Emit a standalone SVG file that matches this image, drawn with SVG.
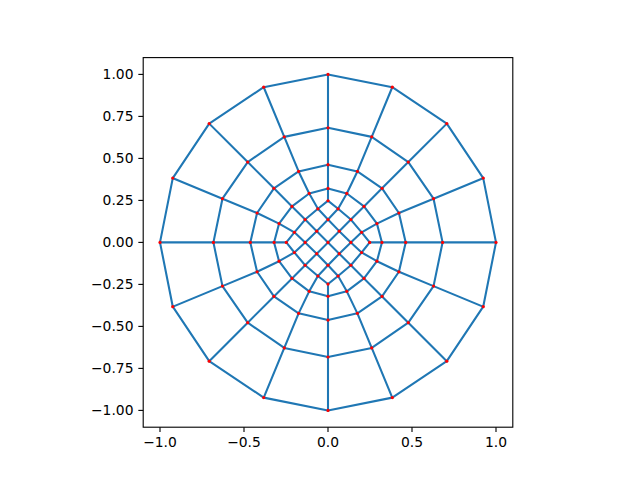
<svg xmlns="http://www.w3.org/2000/svg" width="640" height="480" viewBox="0 0 640 480">
<style>
.m{fill:none;stroke:#1f77b4;stroke-width:2.08;stroke-linejoin:round;stroke-linecap:square}
.p{fill:#ff0000}
.p circle{r:1.6px}
.ax{fill:none;stroke:#000;stroke-width:1.11;stroke-linecap:square}
.tk{stroke:#000;stroke-width:1.11}
.t{font-family:"DejaVu Sans",sans-serif;font-size:13.89px;fill:#000}
</style>
<rect width="640" height="480" fill="#fff"/>
<g id="connectors" class="m">
<polygon points="496,242.4 483.21,178.11 446.79,123.61 392.29,87.19 328,74.4 263.71,87.19 209.21,123.61 172.79,178.11 160,242.4 172.79,306.69 209.21,361.19 263.71,397.61 328,410.4 392.29,397.61 446.79,361.19 483.21,306.69"/>
<polygon points="442.58,242.4 433.54,198.68 408.31,162.09 371.72,136.86 328,127.82 284.28,136.86 247.69,162.09 222.46,198.68 213.42,242.4 222.46,286.12 247.69,322.71 284.28,347.94 328,356.98 371.72,347.94 408.31,322.71 433.54,286.12"/>
<polygon points="405.7,242.4 398.93,213.02 382.05,188.35 357.38,171.47 328,164.7 298.62,171.47 273.95,188.35 257.07,213.02 250.3,242.4 257.07,271.78 273.95,296.45 298.62,313.33 328,320.1 357.38,313.33 382.05,296.45 398.93,271.78"/>
<polygon points="381.93,242.4 376.94,223.61 363.99,206.41 346.79,193.46 328,188.47 309.21,193.46 292.01,206.41 279.06,223.61 274.07,242.4 279.06,261.19 292.01,278.39 309.21,291.34 328,296.33 346.79,291.34 363.99,278.39 376.94,261.19"/>
<polyline points="369.66,242.4 381.93,242.4 405.7,242.4 442.58,242.4 496,242.4"/>
<polyline points="361.6,232.32 376.94,223.61 398.93,213.02 433.54,198.68 483.21,178.11"/>
<polyline points="350.85,219.55 363.99,206.41 382.05,188.35 408.31,162.09 446.79,123.61"/>
<polyline points="338.08,208.8 346.79,193.46 357.38,171.47 371.72,136.86 392.29,87.19"/>
<polyline points="328,200.74 328,188.47 328,164.7 328,127.82 328,74.4"/>
<polyline points="317.92,208.8 309.21,193.46 298.62,171.47 284.28,136.86 263.71,87.19"/>
<polyline points="305.15,219.55 292.01,206.41 273.95,188.35 247.69,162.09 209.21,123.61"/>
<polyline points="294.4,232.32 279.06,223.61 257.07,213.02 222.46,198.68 172.79,178.11"/>
<polyline points="286.34,242.4 274.07,242.4 250.3,242.4 213.42,242.4 160,242.4"/>
<polyline points="294.4,252.48 279.06,261.19 257.07,271.78 222.46,286.12 172.79,306.69"/>
<polyline points="305.15,265.25 292.01,278.39 273.95,296.45 247.69,322.71 209.21,361.19"/>
<polyline points="317.92,276 309.21,291.34 298.62,313.33 284.28,347.94 263.71,397.61"/>
<polyline points="328,284.06 328,296.33 328,320.1 328,356.98 328,410.4"/>
<polyline points="338.08,276 346.79,291.34 357.38,313.33 371.72,347.94 392.29,397.61"/>
<polyline points="350.85,265.25 363.99,278.39 382.05,296.45 408.31,322.71 446.79,361.19"/>
<polyline points="361.6,252.48 376.94,261.19 398.93,271.78 433.54,286.12 483.21,306.69"/>
<polyline points="369.66,242.4 361.6,232.32 350.85,219.55 338.08,208.8 328,200.74"/>
<polyline points="361.6,252.48 350.85,242.4 339.26,231.14 328,219.55 317.92,208.8"/>
<polyline points="350.85,265.25 339.26,253.66 328,242.4 316.74,231.14 305.15,219.55"/>
<polyline points="338.08,276 328,265.25 316.74,253.66 305.15,242.4 294.4,232.32"/>
<polyline points="328,284.06 317.92,276 305.15,265.25 294.4,252.48 286.34,242.4"/>
<polyline points="286.34,242.4 294.4,232.32 305.15,219.55 317.92,208.8 328,200.74"/>
<polyline points="294.4,252.48 305.15,242.4 316.74,231.14 328,219.55 338.08,208.8"/>
<polyline points="305.15,265.25 316.74,253.66 328,242.4 339.26,231.14 350.85,219.55"/>
<polyline points="317.92,276 328,265.25 339.26,253.66 350.85,242.4 361.6,232.32"/>
<polyline points="328,284.06 338.08,276 350.85,265.25 361.6,252.48 369.66,242.4"/>
</g>
<g id="nodes">
<g id="ring0" class="p">
<circle cx="496" cy="242.4" r="1.6"/><circle cx="483.21" cy="178.11" r="1.6"/><circle cx="446.79" cy="123.61" r="1.6"/><circle cx="392.29" cy="87.19" r="1.6"/><circle cx="328" cy="74.4" r="1.6"/><circle cx="263.71" cy="87.19" r="1.6"/><circle cx="209.21" cy="123.61" r="1.6"/><circle cx="172.79" cy="178.11" r="1.6"/><circle cx="160" cy="242.4" r="1.6"/><circle cx="172.79" cy="306.69" r="1.6"/><circle cx="209.21" cy="361.19" r="1.6"/><circle cx="263.71" cy="397.61" r="1.6"/><circle cx="328" cy="410.4" r="1.6"/><circle cx="392.29" cy="397.61" r="1.6"/><circle cx="446.79" cy="361.19" r="1.6"/><circle cx="483.21" cy="306.69" r="1.6"/>
</g>
<g id="ring1" class="p">
<circle cx="442.58" cy="242.4" r="1.6"/><circle cx="433.54" cy="198.68" r="1.6"/><circle cx="408.31" cy="162.09" r="1.6"/><circle cx="371.72" cy="136.86" r="1.6"/><circle cx="328" cy="127.82" r="1.6"/><circle cx="284.28" cy="136.86" r="1.6"/><circle cx="247.69" cy="162.09" r="1.6"/><circle cx="222.46" cy="198.68" r="1.6"/><circle cx="213.42" cy="242.4" r="1.6"/><circle cx="222.46" cy="286.12" r="1.6"/><circle cx="247.69" cy="322.71" r="1.6"/><circle cx="284.28" cy="347.94" r="1.6"/><circle cx="328" cy="356.98" r="1.6"/><circle cx="371.72" cy="347.94" r="1.6"/><circle cx="408.31" cy="322.71" r="1.6"/><circle cx="433.54" cy="286.12" r="1.6"/>
</g>
<g id="ring2" class="p">
<circle cx="405.7" cy="242.4" r="1.6"/><circle cx="398.93" cy="213.02" r="1.6"/><circle cx="382.05" cy="188.35" r="1.6"/><circle cx="357.38" cy="171.47" r="1.6"/><circle cx="328" cy="164.7" r="1.6"/><circle cx="298.62" cy="171.47" r="1.6"/><circle cx="273.95" cy="188.35" r="1.6"/><circle cx="257.07" cy="213.02" r="1.6"/><circle cx="250.3" cy="242.4" r="1.6"/><circle cx="257.07" cy="271.78" r="1.6"/><circle cx="273.95" cy="296.45" r="1.6"/><circle cx="298.62" cy="313.33" r="1.6"/><circle cx="328" cy="320.1" r="1.6"/><circle cx="357.38" cy="313.33" r="1.6"/><circle cx="382.05" cy="296.45" r="1.6"/><circle cx="398.93" cy="271.78" r="1.6"/>
</g>
<g id="ring3" class="p">
<circle cx="381.93" cy="242.4" r="1.6"/><circle cx="376.94" cy="223.61" r="1.6"/><circle cx="363.99" cy="206.41" r="1.6"/><circle cx="346.79" cy="193.46" r="1.6"/><circle cx="328" cy="188.47" r="1.6"/><circle cx="309.21" cy="193.46" r="1.6"/><circle cx="292.01" cy="206.41" r="1.6"/><circle cx="279.06" cy="223.61" r="1.6"/><circle cx="274.07" cy="242.4" r="1.6"/><circle cx="279.06" cy="261.19" r="1.6"/><circle cx="292.01" cy="278.39" r="1.6"/><circle cx="309.21" cy="291.34" r="1.6"/><circle cx="328" cy="296.33" r="1.6"/><circle cx="346.79" cy="291.34" r="1.6"/><circle cx="363.99" cy="278.39" r="1.6"/><circle cx="376.94" cy="261.19" r="1.6"/>
</g>
<g id="core" class="p">
<circle cx="369.66" cy="242.4" r="1.6"/><circle cx="361.6" cy="232.32" r="1.6"/><circle cx="350.85" cy="219.55" r="1.6"/><circle cx="338.08" cy="208.8" r="1.6"/><circle cx="328" cy="200.74" r="1.6"/><circle cx="317.92" cy="208.8" r="1.6"/><circle cx="305.15" cy="219.55" r="1.6"/><circle cx="294.4" cy="232.32" r="1.6"/><circle cx="286.34" cy="242.4" r="1.6"/><circle cx="294.4" cy="252.48" r="1.6"/><circle cx="305.15" cy="265.25" r="1.6"/><circle cx="317.92" cy="276" r="1.6"/><circle cx="328" cy="284.06" r="1.6"/><circle cx="338.08" cy="276" r="1.6"/><circle cx="350.85" cy="265.25" r="1.6"/><circle cx="361.6" cy="252.48" r="1.6"/>
<circle cx="350.85" cy="242.4" r="1.6"/><circle cx="328" cy="219.55" r="1.6"/><circle cx="305.15" cy="242.4" r="1.6"/><circle cx="328" cy="265.25" r="1.6"/>
<circle cx="339.26" cy="231.14" r="1.6"/><circle cx="316.74" cy="231.14" r="1.6"/><circle cx="316.74" cy="253.66" r="1.6"/><circle cx="339.26" cy="253.66" r="1.6"/>
<circle cx="328" cy="242.4" r="1.6"/>
</g>
</g>
<g id="axes">
<rect class="ax" x="143.2" y="57.6" width="369.6" height="369.6"/>
<g class="tk">
<line x1="160" y1="427.2" x2="160" y2="432.06"/><line x1="244" y1="427.2" x2="244" y2="432.06"/><line x1="328" y1="427.2" x2="328" y2="432.06"/><line x1="412" y1="427.2" x2="412" y2="432.06"/><line x1="496" y1="427.2" x2="496" y2="432.06"/>
<line x1="143.2" y1="74.4" x2="138.34" y2="74.4"/><line x1="143.2" y1="116.4" x2="138.34" y2="116.4"/><line x1="143.2" y1="158.4" x2="138.34" y2="158.4"/><line x1="143.2" y1="200.4" x2="138.34" y2="200.4"/><line x1="143.2" y1="242.4" x2="138.34" y2="242.4"/><line x1="143.2" y1="284.4" x2="138.34" y2="284.4"/><line x1="143.2" y1="326.4" x2="138.34" y2="326.4"/><line x1="143.2" y1="368.4" x2="138.34" y2="368.4"/><line x1="143.2" y1="410.4" x2="138.34" y2="410.4"/>
</g>
<g class="t" text-anchor="middle">
<text x="160" y="447">−1.0</text><text x="244" y="447">−0.5</text><text x="328" y="447">0.0</text><text x="412" y="447">0.5</text><text x="496" y="447">1.0</text>
</g>
<g class="t" text-anchor="end">
<text x="133.5" y="79.4">1.00</text><text x="133.5" y="121.4">0.75</text><text x="133.5" y="163.4">0.50</text><text x="133.5" y="205.4">0.25</text><text x="133.5" y="247.4">0.00</text><text x="133.5" y="289.4">−0.25</text><text x="133.5" y="331.4">−0.50</text><text x="133.5" y="373.4">−0.75</text><text x="133.5" y="415.4">−1.00</text>
</g>
</g>
</svg>
